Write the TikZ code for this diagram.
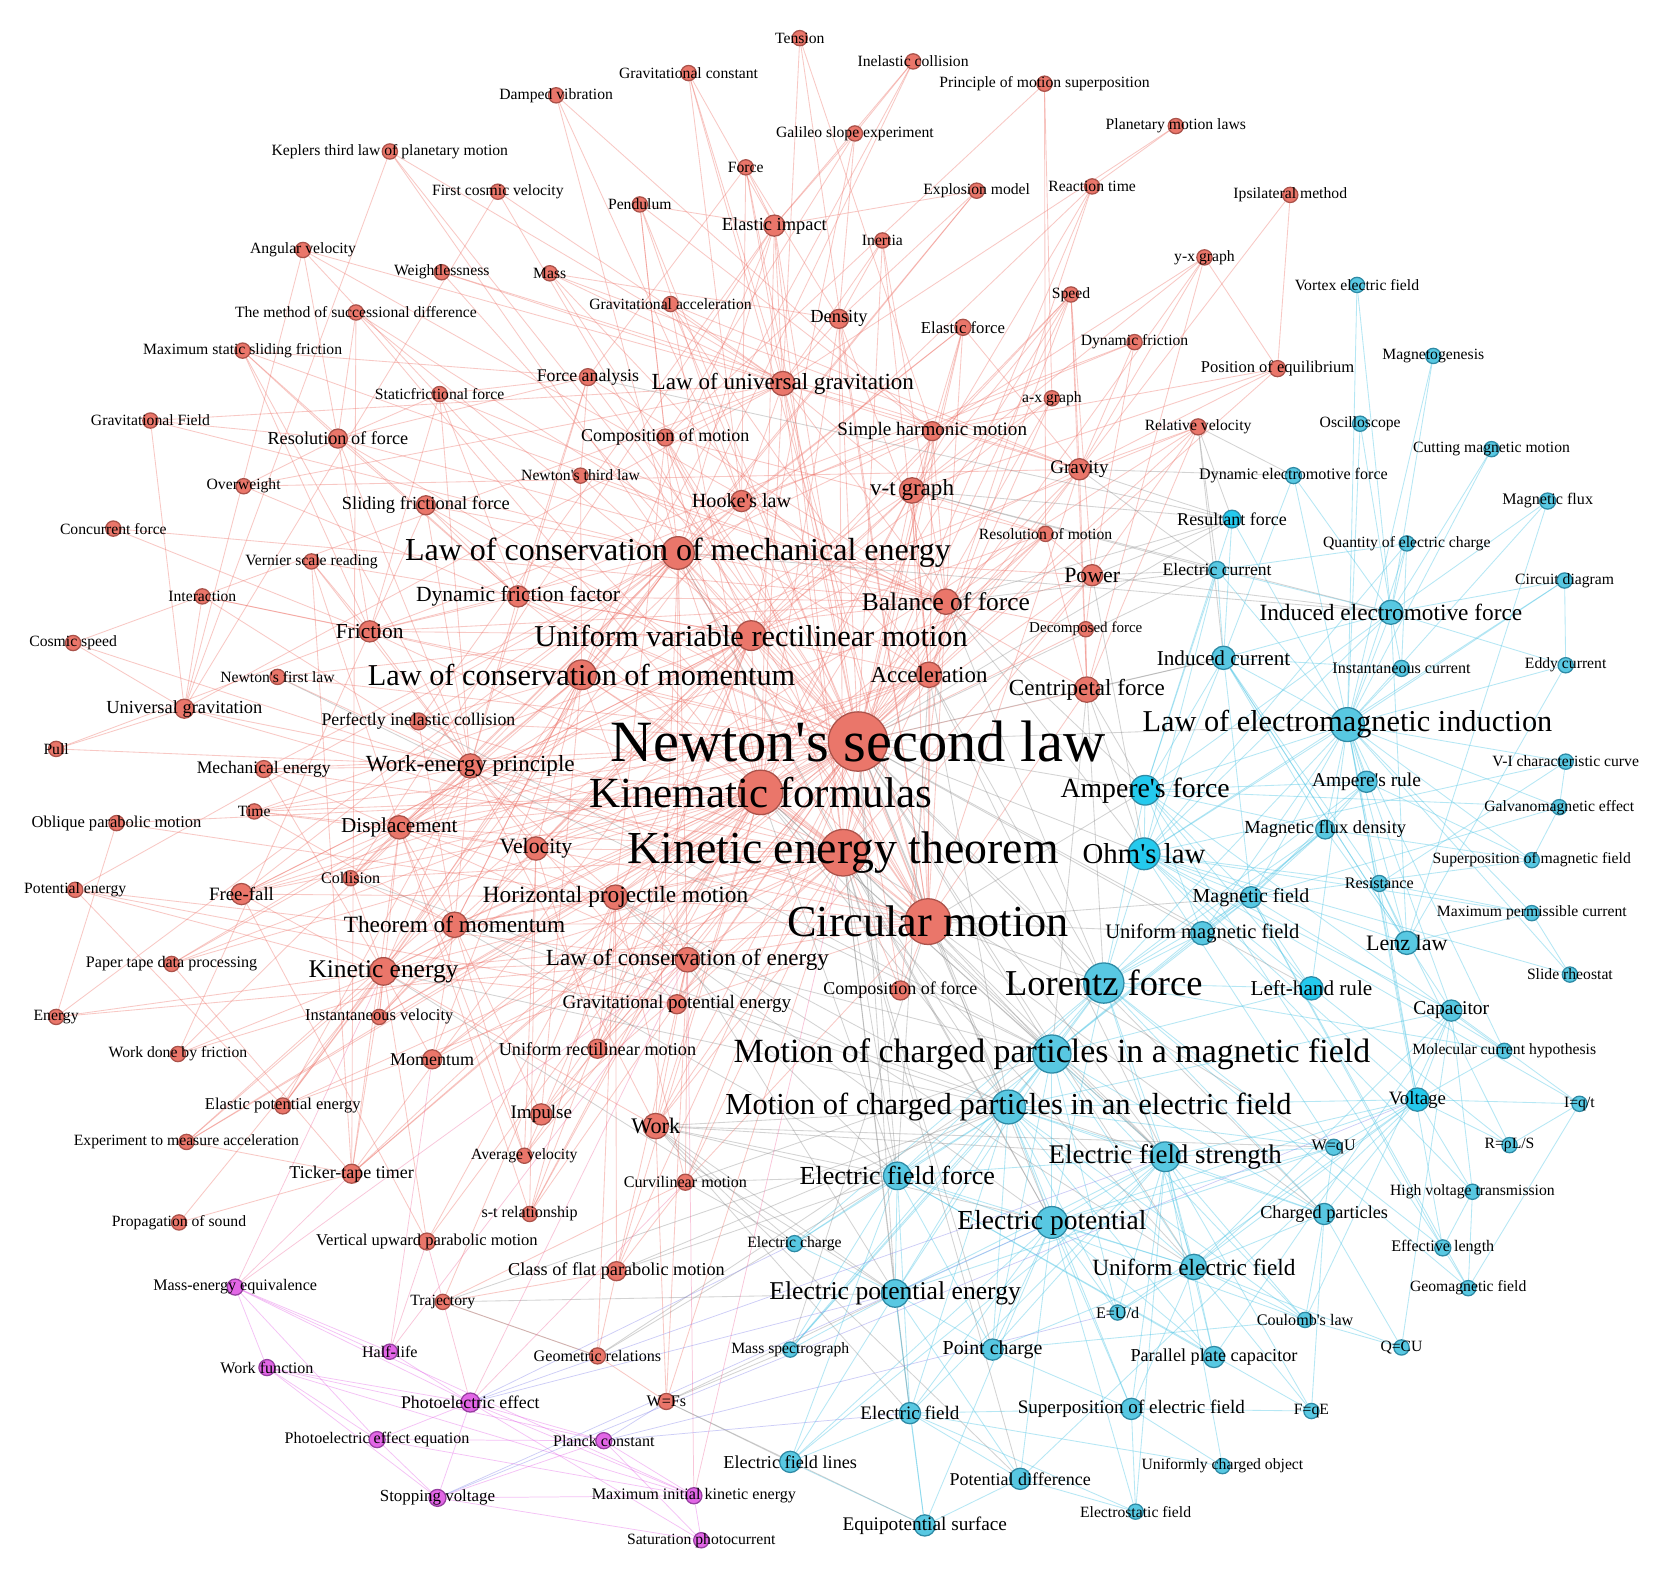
\documentclass[tikz,border=0pt]{standalone}
\usepackage{fontspec}
\setmainfont{Liberation Serif}[Ligatures=TeXOff]
\pgfdeclarelayer{bg}
\pgfdeclarelayer{fg}
\pgfsetlayers{bg,main,fg}
\definecolor{rfill}{RGB}{234,118,106}
\definecolor{rdraw}{RGB}{170,82,74}
\definecolor{cfill}{RGB}{88,200,226}
\definecolor{cbfill}{RGB}{36,202,238}
\definecolor{cdraw}{RGB}{46,138,165}
\definecolor{mfill}{RGB}{226,102,230}
\definecolor{mdraw}{RGB}{150,62,160}
\definecolor{redge}{RGB}{238,112,102}
\definecolor{cedge}{RGB}{80,198,230}
\definecolor{gedge}{RGB}{140,140,140}
\definecolor{medge}{RGB}{228,100,232}
\definecolor{mcedge}{RGB}{130,130,235}
\definecolor{mredge}{RGB}{240,110,160}
\tikzset{
 nR/.style={circle,fill=rfill,draw=rdraw,line width=0.6pt,inner sep=0pt},
 nC/.style={circle,fill=cfill,draw=cdraw,line width=0.6pt,inner sep=0pt},
 nCb/.style={circle,fill=cbfill,draw=cdraw,line width=0.6pt,inner sep=0pt},
 nM/.style={circle,fill=mfill,draw=mdraw,line width=0.6pt,inner sep=0pt},
 lbl/.style={inner sep=0pt,text=black},
 eRR/.style={draw=redge,draw opacity=0.38,line width=0.4pt},
 eCC/.style={draw=cedge,draw opacity=0.42,line width=0.4pt},
 eRC/.style={draw=gedge,draw opacity=0.38,line width=0.4pt},
 eMM/.style={draw=medge,draw opacity=0.4,line width=0.35pt},
 eMC/.style={draw=mcedge,draw opacity=0.4,line width=0.35pt},
 eMR/.style={draw=mredge,draw opacity=0.4,line width=0.35pt},
}
\newcommand\nd[7]{%
 \node[n#4,minimum size={2*#5pt}] (#1) at (#2,#3) {};
 \begin{pgfonlayer}{fg}
 \node[lbl,font=\fontsize{#6}{#6}\selectfont] (#1-l) at (#2,#3) {#7};
 \end{pgfonlayer}}
\newcommand\edgeset[2]{\foreach \ea/\ebs in {#2}{\foreach \eb in \ebs {\draw[#1] (\ea) -- (\eb);}}}
\begin{document}
\begin{tikzpicture}[x=0.5pt,y=-0.5pt]
\useasboundingbox (0,0) rectangle (1568,1487);
\begin{pgfonlayer}{bg}
\fill[white] (0,0) rectangle (1568,1487);
\end{pgfonlayer}
% red nodes
\nd{ten}{755}{36}{R}{3.6}{7.4}{Tension}
\nd{inc}{862}{58}{R}{3.6}{7.4}{Inelastic collision}
\nd{gco}{650}{69}{R}{3.6}{7.4}{Gravitational constant}
\nd{dvi}{525}{90}{R}{3.6}{7.4}{Damped vibration}
\nd{pms}{986}{79}{R}{3.6}{7.4}{Principle of motion superposition}
\nd{gse}{807}{126}{R}{3.6}{7.4}{Galileo slope experiment}
\nd{pml}{1110}{119}{R}{3.6}{7.4}{Planetary motion laws}
\nd{kep}{368}{143}{R}{3.6}{7.4}{Keplers third law of planetary motion}
\nd{frc}{704}{158}{R}{3.6}{7.4}{Force}
\nd{fcv}{470}{181}{R}{3.6}{7.4}{First cosmic velocity}
\nd{pen}{604}{193}{R}{3.6}{7.4}{Pendulum}
\nd{exm}{922}{180}{R}{3.6}{7.4}{Explosion model}
\nd{ret}{1031}{176}{R}{3.6}{7.4}{Reaction time}
\nd{ipm}{1218}{184}{R}{3.6}{7.4}{Ipsilateral method}
\nd{eim}{731}{213}{R}{5}{8.7}{Elastic impact}
\nd{ine}{833}{227}{R}{3.6}{7.4}{Inertia}
\nd{avl}{286}{236}{R}{3.6}{7.4}{Angular velocity}
\nd{wls}{417}{257}{R}{3.6}{7.4}{Weightlessness}
\nd{mas}{519}{258}{R}{3.6}{7.4}{Mass}
\nd{gac}{633}{287}{R}{3.6}{7.4}{Gravitational acceleration}
\nd{yxg}{1137}{243}{R}{3.6}{7.4}{y-x graph}
\nd{spd}{1011}{278}{R}{3.6}{7.4}{Speed}
\nd{den}{792}{301}{R}{4.5}{8.7}{Density}
\nd{efo}{909}{309}{R}{3.8}{7.9}{Elastic force}
\nd{msd}{336}{295}{R}{3.6}{7.4}{The method of successional difference}
\nd{mss}{229}{331}{R}{3.6}{7.4}{Maximum static sliding friction}
\nd{dfr}{1071}{323}{R}{3.6}{7.4}{Dynamic friction}
\nd{peq}{1206}{348}{R}{3.8}{7.8}{Position of equilibrium}
\nd{fan}{555}{356}{R}{4}{8.4}{Force analysis}
\nd{lug}{739}{362}{R}{5.7}{10.9}{Law of universal gravitation}
\nd{sff}{415}{372}{R}{3.6}{7.4}{Staticfrictional force}
\nd{axg}{993}{376}{R}{3.6}{7.4}{a-x graph}
\nd{gfd}{142}{397}{R}{3.6}{7.4}{Gravitational Field}
\nd{rof}{319}{414}{R}{4.5}{8.6}{Resolution of force}
\nd{com}{628}{413}{R}{4}{8.5}{Composition of motion}
\nd{shm}{880}{407}{R}{4.5}{9}{Simple harmonic motion}
\nd{rve}{1131}{403}{R}{3.8}{7.4}{Relative velocity}
\nd{ovw}{230}{459}{R}{3.6}{7.4}{Overweight}
\nd{ntl}{548}{449}{R}{3.6}{7.4}{Newton's third law}
\nd{hoo}{700}{473}{R}{5}{9.5}{Hooke's law}
\nd{vtg}{861}{463}{R}{6}{10.9}{v-t graph}
\nd{gra}{1019}{443}{R}{5}{9}{Gravity}
\nd{sfr}{402}{477}{R}{4.5}{8.7}{Sliding frictional force}
\nd{cfo}{107}{499}{R}{3.6}{7.4}{Concurrent force}
\nd{rom}{987}{504}{R}{3.6}{7.4}{Resolution of motion}
\nd{lcme}{640}{522}{R}{7.7}{15.1}{Law of conservation of mechanical energy}
\nd{vsr}{294}{530}{R}{3.6}{7.4}{Vernier scale reading}
\nd{int}{191}{563}{R}{3.6}{7.4}{Interaction}
\nd{dff}{489}{563}{R}{5}{10.2}{Dynamic friction factor}
\nd{pow}{1031}{543}{R}{5}{10.3}{Power}
\nd{bof}{893}{568}{R}{6}{12}{Balance of force}
\nd{fri}{349}{596}{R}{5}{10.1}{Friction}
\nd{uvrm}{709}{600}{R}{7}{14.3}{Uniform variable rectilinear motion}
\nd{dec}{1025}{594}{R}{3.6}{7.1}{Decomposed force}
\nd{cos}{69}{607}{R}{3.6}{7.4}{Cosmic speed}
\nd{nfl}{262}{639}{R}{3.6}{7.4}{Newton's first law}
\nd{lcm}{549}{637}{R}{7}{14.3}{Law of conservation of momentum}
\nd{acc}{877}{637}{R}{6}{10.8}{Acceleration}
\nd{cpf}{1026}{651}{R}{6}{10.9}{Centripetal force}
\nd{ugr}{174}{669}{R}{4.5}{8.7}{Universal gravitation}
\nd{pic}{395}{681}{R}{4}{8.4}{Perfectly inelastic collision}
\nd{nsl}{810}{700}{R}{14}{27.6}{Newton's second law}
\nd{pul}{53}{707}{R}{3.6}{7.4}{Pull}
\nd{mec}{249}{726}{R}{4}{8.3}{Mechanical energy}
\nd{wep}{444}{723}{R}{5.7}{10.9}{Work-energy principle}
\nd{kf}{718}{748}{R}{10.5}{20.3}{Kinematic formulas}
\nd{tim}{240}{766}{R}{3.6}{7.4}{Time}
\nd{obl}{110}{777}{R}{3.6}{7.8}{Oblique parabolic motion}
\nd{dis}{377}{781}{R}{5.5}{10}{Displacement}
\nd{vel}{506}{801}{R}{5.5}{10.3}{Velocity}
\nd{ket}{796}{805}{R}{11}{21.6}{Kinetic energy theorem}
\nd{pen2}{71}{840}{R}{3.6}{7.4}{Potential energy}
\nd{ffa}{228}{844}{R}{5}{8.9}{Free-fall}
\nd{col}{331}{829}{R}{3.6}{7.6}{Collision}
\nd{hpm}{581}{847}{R}{5.8}{11}{Horizontal projectile motion}
\nd{cm}{876}{870}{R}{10.8}{20.9}{Circular motion}
\nd{tom}{429}{873}{R}{6}{11}{Theorem of momentum}
\nd{ptd}{162}{910}{R}{3.6}{7.6}{Paper tape data processing}
\nd{ke}{362}{917}{R}{6.5}{12}{Kinetic energy}
\nd{lce}{649}{906}{R}{5.8}{10.9}{Law of conservation of energy}
\nd{cof}{850}{935}{R}{4.5}{8.5}{Composition of force}
\nd{ene}{53}{960}{R}{3.6}{7.4}{Energy}
\nd{gpe}{639}{948}{R}{4.5}{9}{Gravitational potential energy}
\nd{ivl}{358}{960}{R}{3.6}{7.8}{Instantaneous velocity}
\nd{wdf}{168}{995}{R}{3.6}{7.4}{Work done by friction}
\nd{urm}{564}{990}{R}{4.5}{8.6}{Uniform rectilinear motion}
\nd{mom}{408}{1000}{R}{4.5}{8.5}{Momentum}
\nd{epe}{267}{1044}{R}{3.8}{7.8}{Elastic potential energy}
\nd{imp}{511}{1052}{R}{5}{9}{Impulse}
\nd{wrk}{619}{1063}{R}{6}{10.5}{Work}
\nd{ema}{176}{1078}{R}{3.6}{7.4}{Experiment to measure acceleration}
\nd{avv}{495}{1091}{R}{3.6}{7.4}{Average velocity}
\nd{ttt}{332}{1108}{R}{4.5}{8.5}{Ticker-tape timer}
\nd{cur}{647}{1116}{R}{3.8}{7.6}{Curvilinear motion}
\nd{str}{500}{1146}{R}{3.6}{7.6}{s-t relationship}
\nd{pos}{169}{1154}{R}{3.6}{7.4}{Propagation of sound}
\nd{vup}{403}{1172}{R}{4}{7.8}{Vertical upward parabolic motion}
\nd{cfp}{582}{1200}{R}{4.5}{8.6}{Class of flat parabolic motion}
\nd{tra}{418}{1229}{R}{3.6}{7.4}{Trajectory}
\nd{geo}{564}{1280}{R}{3.8}{7.6}{Geometric relations}
\nd{wfs}{629}{1323}{R}{3.8}{7.6}{W=Fs}
% magenta nodes
\nd{mee}{222}{1215}{M}{3.8}{7.6}{Mass-energy equivalence}
\nd{hlf}{368}{1276}{M}{3.6}{7.6}{Half-life}
\nd{wfn}{252}{1291}{M}{3.8}{7.6}{Work function}
\nd{pee}{444}{1324}{M}{4.5}{8.4}{Photoelectric effect}
\nd{peeq}{356}{1359}{M}{3.8}{7.6}{Photoelectric effect equation}
\nd{pla}{570}{1360}{M}{3.8}{7.6}{Planck constant}
\nd{stv}{413}{1414}{M}{4}{8}{Stopping voltage}
\nd{mik}{655}{1412}{M}{3.8}{7.6}{Maximum initial kinetic energy}
\nd{sat}{662}{1454}{M}{3.6}{7.4}{Saturation photocurrent}
% cyan nodes
\nd{vef}{1281}{269}{C}{3.6}{7.4}{Vortex electric field}
\nd{mgg}{1353}{336}{C}{3.6}{7.4}{Magnetogenesis}
\nd{osc}{1284}{400}{C}{3.6}{7.4}{Oscilloscope}
\nd{cmm}{1408}{424}{C}{3.6}{7.4}{Cutting magnetic motion}
\nd{dem}{1221}{449}{C}{3.8}{7.6}{Dynamic electromotive force}
\nd{mfl}{1461}{473}{C}{3.8}{7.6}{Magnetic flux}
\nd{rfo}{1163}{490}{Cb}{4.2}{8.5}{Resultant force}
\nd{qec}{1328}{513}{C}{3.6}{7.4}{Quantity of electric charge}
\nd{ecu}{1149}{538}{C}{4}{8.3}{Electric current}
\nd{cid}{1477}{548}{C}{3.6}{7.4}{Circuit diagram}
\nd{ief}{1313}{578}{C}{5.7}{11}{Induced electromotive force}
\nd{ic}{1155}{621}{C}{5.5}{10}{Induced current}
\nd{isc}{1323}{631}{C}{3.8}{7.6}{Instantaneous current}
\nd{edc}{1478}{628}{C}{3.6}{7.4}{Eddy current}
\nd{lei}{1272}{684}{C}{8}{14.3}{Law of electromagnetic induction}
\nd{vic}{1478}{719}{C}{3.6}{7.4}{V-I characteristic curve}
\nd{af}{1081}{746}{Cb}{7}{13.1}{Ampere's force}
\nd{ar}{1290}{738}{C}{5}{9.2}{Ampere's rule}
\nd{gme}{1472}{762}{C}{3.6}{7.4}{Galvanomagnetic effect}
\nd{mfd}{1251}{783}{C}{4.5}{8.7}{Magnetic flux density}
\nd{ol}{1080}{806}{Cb}{7.5}{13.6}{Ohm's law}
\nd{smf}{1446}{812}{C}{3.6}{7.4}{Superposition of magnetic field}
\nd{res}{1302}{834}{C}{3.8}{7.6}{Resistance}
\nd{mf}{1181}{847}{C}{5}{9.4}{Magnetic field}
\nd{mpc}{1446}{862}{C}{3.6}{7.4}{Maximum permissible current}
\nd{umf}{1135}{881}{C}{5.5}{9.7}{Uniform magnetic field}
\nd{lz}{1328}{890}{C}{5.5}{10.4}{Lenz law}
\nd{srh}{1482}{920}{C}{3.6}{7.4}{Slide rheostat}
\nd{lf}{1042}{928}{C}{9.5}{17.2}{Lorentz force}
\nd{lhr}{1238}{933}{Cb}{5.5}{10}{Left-hand rule}
\nd{cap}{1370}{954}{C}{5}{9.2}{Capacitor}
\nd{mcpm}{993}{995}{C}{9}{16}{Motion of charged particles in a magnetic field}
\nd{mch}{1420}{992}{C}{3.6}{7.4}{Molecular current hypothesis}
\nd{mcpe}{952}{1045}{C}{8}{14.4}{Motion of charged particles in an electric field}
\nd{vol}{1338}{1038}{Cb}{5.5}{8.9}{Voltage}
\nd{iqt}{1491}{1042}{C}{3.6}{7.4}{I=q/t}
\nd{wqu}{1259}{1083}{C}{3.8}{7.6}{W=qU}
\nd{rrl}{1425}{1081}{C}{3.6}{7.4}{R=ρL/S}
\nd{efs}{1100}{1092}{C}{7}{12.7}{Electric field strength}
\nd{eff}{847}{1110}{C}{6.5}{12.3}{Electric field force}
\nd{hvt}{1390}{1125}{C}{3.6}{7.4}{High voltage transmission}
\nd{cpa}{1250}{1146}{C}{5}{8.6}{Charged particles}
\nd{ep}{993}{1154}{C}{7.5}{13}{Electric potential}
\nd{ech}{750}{1174}{C}{3.8}{7.4}{Electric charge}
\nd{efl}{1362}{1178}{C}{3.8}{7.6}{Effective length}
\nd{uef}{1127}{1196}{C}{6}{11}{Uniform electric field}
\nd{gmf}{1386}{1216}{C}{3.6}{7.4}{Geomagnetic field}
\nd{epe2}{845}{1221}{C}{6.5}{12.1}{Electric potential energy}
\nd{eud}{1055}{1239}{C}{3.6}{7.6}{E=U/d}
\nd{cou}{1232}{1246}{C}{3.6}{7.6}{Coulomb's law}
\nd{msp}{746}{1274}{C}{3.6}{7.4}{Mass spectrograph}
\nd{pch}{937}{1274}{C}{5}{9.4}{Point charge}
\nd{qcu}{1323}{1272}{C}{3.6}{7.4}{Q=CU}
\nd{ppc}{1146}{1281}{C}{5}{8.6}{Parallel plate capacitor}
\nd{efd}{859}{1334}{C}{5}{9}{Electric field}
\nd{sef}{1068}{1330}{C}{5}{9}{Superposition of electric field}
\nd{fqe}{1238}{1332}{C}{3.6}{7.4}{F=qE}
\nd{efls}{746}{1380}{C}{5}{8.6}{Electric field lines}
\nd{uco}{1154}{1384}{C}{3.6}{7.4}{Uniformly charged object}
\nd{pdi}{963}{1396}{C}{5}{8.5}{Potential difference}
\nd{esf}{1072}{1427}{C}{3.6}{7.4}{Electrostatic field}
\nd{eqs}{873}{1440}{C}{5}{9.1}{Equipotential surface}
% edges
\begin{pgfonlayer}{bg}
\edgeset{eRR}{
nsl/{kf,ket,cm,lcme,uvrm,lcm,acc,bof,cpf,lug,wep,hpm,dis,vel,tom,ke,lce,vtg,gra,pow,fri,hoo,fan,ntl,nfl,ine,mas,den,shm,dff,sfr,rof,com,ffa,imp,mom,wrk,cur,urm,gpe,cof,eim,wls,ovw,frc,gac,kep,pic,mec,tim,ivl,avv,str,ttt,ema,cfp,dec,rom,spd,efo,rve,yxg,axg,peq,ret},
kf/{ket,cm,lcme,uvrm,lcm,acc,vtg,dis,vel,hpm,ffa,urm,str,avv,ivl,tim,ttt,ptd,ema,vup,cfp,obl,com,rom,tom,wep,ke,gac,spd,msd,eim,den,lug,mom,imp,wrk},
ket/{cm,lcme,wep,ke,wrk,pow,lce,gpe,epe,mec,dis,vel,fri,dff,sfr,wdf,hpm,tom,lcm,imp,mom,cof,bof,acc,hoo,efo,eim,pic,col,shm,den,lug,cur},
cm/{cpf,lug,avl,kep,fcv,cos,ugr,gra,acc,vel,cur,hpm,bof,cof,shm,pen,ten,gco,den,com,uvrm,lcme,lce,wep,tom,ke,gpe,vtg},
lcme/{lcm,wep,ke,mec,gpe,epe,pen2,lce,ene,wrk,pow,hoo,efo,eim,pic,col,inc,exm,uvrm,dis,fri,shm,pen,dvi,gfd,ffa},
uvrm/{vtg,acc,dis,vel,ffa,str,avv,ivl,ttt,ptd,ema,msd,vsr,hpm,urm,tim,dff,fri,com,rom,gse,axg,spd},
lcm/{mom,imp,tom,col,pic,inc,exm,eim,rve,ret,wep,ke,vel,dis,lce,int,ntl},
lug/{gco,kep,fcv,pml,cos,ugr,gfd,mas,den,gac,gra,frc,wls,ovw,avl,ten,eim,ine,com,shm,hoo,vtg,bof},
wep/{ke,wrk,pow,dis,fri,sfr,dff,wdf,mec,gpe,epe,tom,lce,vel,pul,int,nfl,ugr,mss,sff,rof,fan,vsr,tim},
tom/{imp,mom,lcm,ke,vel,dis,col,pic,tim,avv,ivl,hpm},
ke/{wrk,lce,gpe,epe,mec,ffa,wdf,ene,pen2,ttt,ema,pos,ivl,col,vup,mom},
hpm/{cfp,obl,vup,tra,geo,com,rom,ffa,cur,urm,vel,dis,str},
lce/{gpe,wrk,mec,epe,ene,pen2,wfs,cur,urm,cfp},
bof/{fri,sfr,sff,mss,dff,rof,fan,cof,cfo,dec,gra,efo,hoo,ntl,nfl,den,ine,rom,shm},
acc/{vtg,axg,gra,gac,ffa,dis,vel,spd,ret,ine,mas,msd,ptd,ttt},
cpf/{gra,avl,spd,dec,rom,yxg,rve},
vtg/{axg,yxg,str,dis,vel,acc,spd,ret,rom,peq,shm},
gra/{gac,ffa,mas,wls,ovw,efo,spd,peq,rve,dfr,yxg,ipm},
pow/{wrk,dec,rom,spd,rve,dfr},
fri/{sfr,sff,mss,dff,dfr,wdf,int,vsr,cfo,pul,rof},
dff/{sfr,sff,dfr,mss,rof,fan},
dis/{vel,str,tim,avv,ivl,vsr,ttt,ptd,col,ffa},
vel/{avv,ivl,spd,str,tim,rve,urm},
shm/{hoo,pen,dvi,peq,efo,yxg,axg,ten},
hoo/{efo,epe,frc,dvi,pen,gco},
eim/{inc,exm,gse,col,pic,frc,pen,gco},
den/{mas,gse,ine,exm,frc},
fan/{rof,ntl,sff,mss,frc},
rof/{sff,mss,ovw,gfd,msd,avl},
com/{rom,pms,gse,pen},
ugr/{pul,cos,int,gfd,kep,avl,fcv},
ipm/{peq},yxg/{peq},pms/{rom,axg},pml/{ret},inc/{gse},ene/{obl},pen2/{gpe,epe},
ttt/{ptd,msd,ema,pos,vsr},wfs/{wrk,ket,geo},geo/{cfp,tra},tra/{cur,cfp},vup/{ffa},cur/{cfp}}
\edgeset{eCC}{
lei/{ief,ic,isc,lz,ar,mfd,af,mf,umf,ol,ecu,dem,cmm,mfl,mgg,vef,osc,edc,cid,qec,vic,gme,smf,res,mpc,lhr,cap,vol,efl,lf,mch,srh,rfo},
lf/{mcpm,lhr,umf,mf,af,mfd,ar,ol,mcpe,efs,eff,ep,cpa,uef,ech,msp,efl,gmf,mch},
mcpm/{umf,mf,lhr,mcpe,eff,efs,ep,uef,msp,cpa,epe2,pch,mfd,cou,eud},
mcpe/{uef,efs,ep,eff,epe2,eud,ppc,cpa,msp,pch,efd,wqu,vol,cap,ech,cou,sef},
efs/{eff,uef,ep,epe2,pch,cou,fqe,sef,efd,eud,cpa,wqu,ppc,uco,esf,efls,vol},
ep/{epe2,pdi,eqs,eud,uef,wqu,efd,pch,sef,efls,vol,esf,ppc},
epe2/{eff,pdi,eqs,wqu,pch,efd,efls,ech,msp},
eff/{efd,fqe,ech,pch,cou,efls,uef,ppc,msp},
ol/{af,ecu,res,vol,rrl,iqt,mpc,srh,vic,hvt,ic,ief,cap,lz,mf,qec,cid,wqu},
af/{ecu,mf,lhr,ar,umf,mfd,ic,ief,rfo,mch,efl,gme},
ief/{ic,isc,lz,dem,cmm,mfl,osc,qec,ecu,cid,edc,mgg,vef},
ic/{lz,ecu,isc,dem,rfo,mf,mfd,res},
uef/{eud,ppc,cou,cpa,pch,fqe,sef,qcu,cap,vol,wqu},
mf/{umf,mfd,smf,ar,lhr,gme,mch,gmf,efl},
lz/{mfd,ic,mfl,edc,cap,res,mpc},
cap/{ppc,qcu,vol,cou,hvt,iqt},
vol/{wqu,eud,iqt,hvt,rrl,cpa,pdi,res,mch},
cpa/{cou,wqu,qcu,fqe},
pdi/{eqs,efd,esf},efd/{efls,eqs,sef,esf,uco},sef/{fqe,pch,uco,esf},eqs/{efls},cou/{pch,qcu},
gmf/{efl,iqt,hvt},efl/{hvt},rrl/{res,iqt},mpc/{srh,res},smf/{mfd,ar,gme},vic/{res,gme},
mfd/{umf,ar},isc/{qec},qec/{ecu},cid/{edc}}
\edgeset{eRC}{
nsl/{lf,mcpm,mcpe,af,eff,efs,ol,rfo,ecu,ic,umf,lhr,ep,epe2,uef,lei,cpa},
ket/{mcpe,ep,epe2,eff,efs,wqu,mcpm,pch,pdi,efd},
cm/{mcpm,lf,umf,mf,mcpe,af,msp,cpa,efs},
kf/{mcpe,eff,mcpm,efs,uef},
wrk/{epe2,ep,eff,wqu,efs,mcpe,efd,ech,pdi},
lce/{mcpm,epe2,ep},
bof/{rfo,af,lf,ol,ecu},
gra/{rfo,dem,ecu},
rve/{rfo,dem,ecu,ic},
acc/{efs,eff,mcpe,lf},
cpf/{lf,mcpm,af,ol,ic},
pow/{ol,ecu,ief,rfo},
vtg/{rfo,ecu,ief},
lcme/{ep,ief},
hpm/{mcpe,uef,eff},
cfp/{mcpe,eff},
tra/{epe2,mcpe,geo},
geo/{mcpm,eff},
wfs/{efls,msp,epe2,eqs},
cur/{mcpm,eff,ech},
fan/{rfo},nfl/{mcpm},col/{efs},pic/{mcpm},tom/{mcpe,eff},ke/{mcpe,epe2}}
\edgeset{eMM}{
mee/{hlf,pee,wfn,peeq,mik},
wfn/{pee,peeq,mik,stv,pla},
pee/{peeq,stv,pla,mik,sat,hlf},
peeq/{stv,mik,pla},
pla/{mik,stv,sat},
stv/{mik,sat},
mik/{sat}}
\edgeset{eMR}{
lce/{mee,hlf,pee},pee/{cur,vup},hlf/{vup,mom},mee/{ttt,ke},mik/{lce,ket}}
\edgeset{eMC}{
pee/{ech,epe2,efs},stv/{ep,vol},pla/{efd,eud,wfs}}
\end{pgfonlayer}
\end{tikzpicture}
\end{document}
